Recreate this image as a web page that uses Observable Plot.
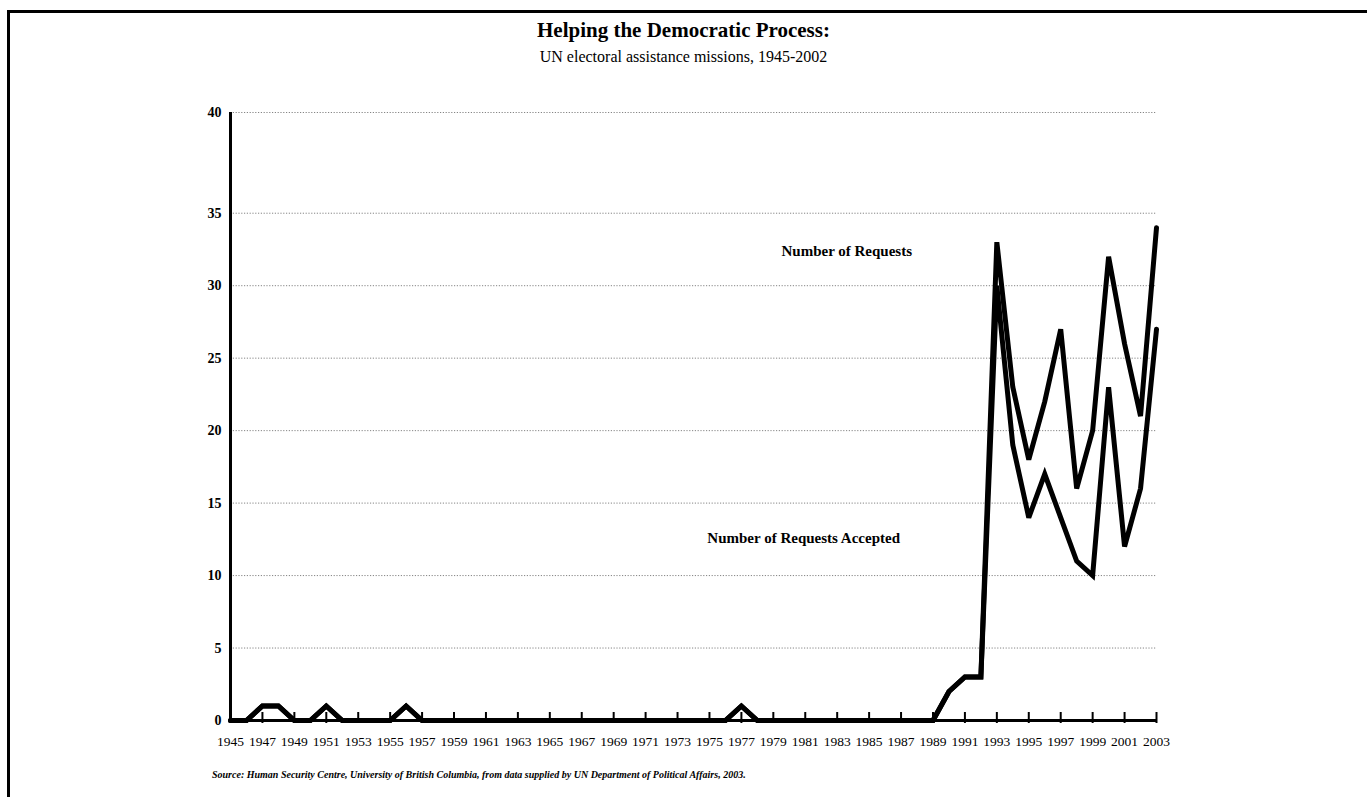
<!DOCTYPE html>
<html>
<head>
<meta charset="utf-8">
<script src="https://cdn.jsdelivr.net/npm/d3@7"></script>
<script src="https://cdn.jsdelivr.net/npm/@observablehq/plot@0.6"></script>
<style>
  body { margin: 0; background: #fff; width: 1367px; height: 797px; overflow: hidden; position: relative; font-family: "Liberation Serif", serif; color: #000; }
  #frame { position: absolute; left: 7px; top: 10px; width: 1400px; height: 820px; border-top: 3px solid #000; border-left: 3px solid #000; }
  #title { position: absolute; left: 0; width: 1367px; top: 17px; text-align: center; font-weight: bold; font-size: 21px; line-height: 26px; }
  #subtitle { position: absolute; left: 0; width: 1367px; top: 46px; text-align: center; font-size: 16px; line-height: 22px; }
  #chart { position: absolute; left: 0; top: 90px; }
  #source { position: absolute; left: 212px; top: 768px; font-size: 10px; font-style: italic; font-weight: bold; line-height: 14px; white-space: nowrap; }
</style>
</head>
<body>
<div id="frame"></div>
<div id="title">Helping the Democratic Process:</div>
<div id="subtitle">UN electoral assistance missions, 1945-2002</div>
<div id="chart"></div>
<div id="source">Source: Human Security Centre, University of British Columbia, from data supplied by UN Department of Political Affairs, 2003.</div>
<script>
const years = [1945,1946,1947,1948,1949,1950,1951,1952,1953,1954,1955,1956,1957,1958,1959,1960,1961,1962,1963,1964,1965,1966,1967,1968,1969,1970,1971,1972,1973,1974,1975,1976,1977,1978,1979,1980,1981,1982,1983,1984,1985,1986,1987,1988,1989,1990,1991,1992,1993,1994,1995,1996,1997,1998,1999,2000,2001,2002,2003];
const requests = [0,0,1,1,0,0,1,0,0,0,0,1,0,0,0,0,0,0,0,0,0,0,0,0,0,0,0,0,0,0,0,0,1,0,0,0,0,0,0,0,0,0,0,0,0,2,3,3,33,23,18,22,27,16,20,32,26,21,34];
const accepted = [0,0,1,1,0,0,1,0,0,0,0,1,0,0,0,0,0,0,0,0,0,0,0,0,0,0,0,0,0,0,0,0,1,0,0,0,0,0,0,0,0,0,0,0,0,2,3,3,30,19,14,17,14,11,10,23,12,16,27];
const yTicks = [0,5,10,15,20,25,30,35,40];
const xTicks = [1945,1947,1949,1951,1953,1955,1957,1959,1961,1963,1965,1967,1969,1971,1973,1975,1977,1979,1981,1983,1985,1987,1989,1991,1993,1995,1997,1999,2001,2003];
const seriesLabels = [
  {text: "Number of Requests", year: 1983.6, value: 32.4},
  {text: "Number of Requests Accepted", year: 1980.9, value: 12.6}
];

const reqRows = years.map((y, i) => ({year: y, value: requests[i]}));
const accRows = years.map((y, i) => ({year: y, value: accepted[i]}));

// The original chart's top interval (35–40) is drawn taller than the others.
const topStretch = 1.39;
const yTransform = v => v <= 35 ? v : 35 + (v - 35) * topStretch;

const chart = Plot.plot({
  width: 1367,
  height: 680,
  marginLeft: 230,
  marginRight: 211,
  marginTop: 22,
  marginBottom: 50,
  style: {fontFamily: "Liberation Serif, serif", background: "transparent", color: "#000"},
  x: {domain: [1945, 2003], axis: null},
  y: {transform: yTransform, axis: null},
  marks: [
    Plot.ruleY(yTicks.slice(1), {y: d => d, stroke: "#666", strokeWidth: 0.8, strokeDasharray: "1.2,1.6"}),
    Plot.ruleX([1945], {x: d => d, y1: 0, y2: 40, stroke: "#000", strokeWidth: 3}),
    Plot.ruleY([0], {y: d => d, x1: 1945, x2: 2003, stroke: "#000", strokeWidth: 3}),
    Plot.ruleX(xTicks, {x: d => d, y1: 0, y2: 0, insetTop: 3, insetBottom: 8, stroke: "#000", strokeWidth: 2}),
    Plot.line(reqRows, {x: "year", y: "value", stroke: "#000", strokeWidth: 5, strokeLinejoin: "miter", strokeMiterlimit: 3}),
    Plot.line(accRows, {x: "year", y: "value", stroke: "#000", strokeWidth: 5, strokeLinejoin: "miter", strokeMiterlimit: 3}),
    Plot.text(yTicks, {x: 1945, y: d => d, text: d => String(d), textAnchor: "end", dx: -9, fontWeight: "bold", fontSize: 14, fill: "#000"}),
    Plot.text(xTicks, {x: d => d, y: 0, dy: 21, text: d => String(d), fontSize: 13.5, fill: "#000"}),
    Plot.text(seriesLabels, {x: "year", y: "value", text: "text", fontWeight: "bold", fontSize: 15, fill: "#000"})
  ]
});
document.getElementById("chart").appendChild(chart);
</script>
</body>
</html>
